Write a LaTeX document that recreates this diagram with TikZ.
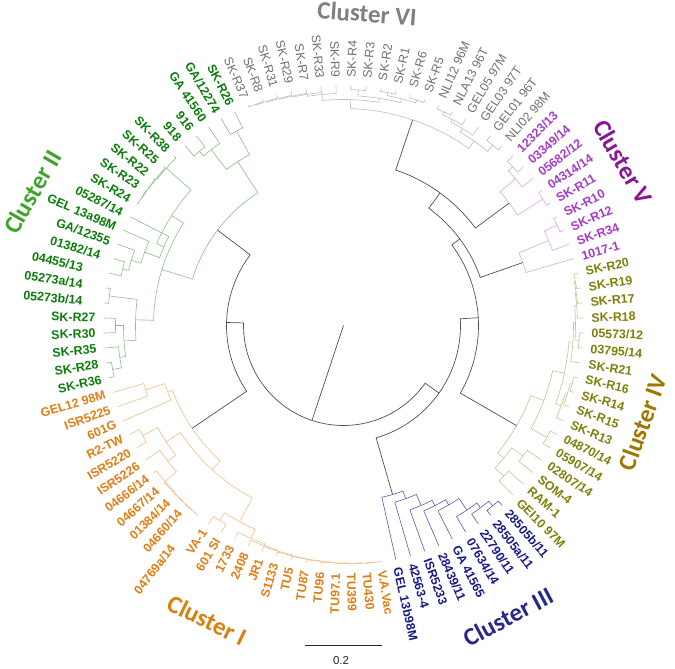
\documentclass[tikz,border=0pt]{standalone}
\usepackage{fontspec}
\newfontfamily\labf{Liberation Sans}
\newfontfamily\titf{Carlito}
\definecolor{bbone}{HTML}{505050}
\definecolor{c6lab}{HTML}{707070}\definecolor{c6br}{HTML}{BDBDBD}\definecolor{c6tit}{HTML}{808080}
\definecolor{c5lab}{HTML}{A53BC9}\definecolor{c5br}{HTML}{D8A6E8}\definecolor{c5tit}{HTML}{8C1496}
\definecolor{c4lab}{HTML}{7F800A}\definecolor{c4br}{HTML}{C3C396}\definecolor{c4tit}{HTML}{A07800}
\definecolor{c3lab}{HTML}{19198A}\definecolor{c3br}{HTML}{5A5AAA}\definecolor{c3tit}{HTML}{28288C}
\definecolor{c1lab}{HTML}{E17D14}\definecolor{c1br}{HTML}{EEBE8C}\definecolor{c1tit}{HTML}{D7820F}
\definecolor{c2lab}{HTML}{0A7D0A}\definecolor{c2br}{HTML}{8CBE8C}\definecolor{c2tit}{HTML}{3CA528}
\colorlet{curbr}{bbone}\colorlet{curlab}{black}
\def\brw{0.6pt}
\def\labfont{\labf\bfseries\fontsize{12.4}{14}\selectfont}
\tikzset{
  br/.style={line width=\brw, draw=curbr, line join=miter},
  lab/.style={inner sep=0pt, text height=8.9pt, text depth=0pt, text=curlab, font=\labfont},
  tit/.style={inner sep=0pt, font=\titf\bfseries\fontsize{25}{30}\selectfont}
}
% leaf: [extra label offset]{index}{text}
\newcommand\Lf[3][0]{%
  \pgfmathsetmacro\leafang{113.4-3.6*#2}%
  \expandafter\xdef\csname ang@#2\endcsname{\leafang}%
  \expandafter\xdef\csname rad@#2\endcsname{240}%
  \pgfmathsetmacro\leafr{248+#1}%
  \ifnum#2<7 \node[lab,anchor=east,rotate=\leafang+180] (lab#2) at (\leafang:\leafr pt) {#3};%
  \else\ifnum#2>56 \node[lab,anchor=east,rotate=\leafang+180] (lab#2) at (\leafang:\leafr pt) {#3};%
  \else \node[lab,anchor=west,rotate=\leafang] (lab#2) at (\leafang:\leafr pt) {#3};%
  \fi\fi}
% join: {name}{radius}{child1}{child2}
\newcommand\J[4]{%
  \edef\tA{\csname ang@#3\endcsname}\edef\tB{\csname ang@#4\endcsname}%
  \edef\rA{\csname rad@#3\endcsname}\edef\rB{\csname rad@#4\endcsname}%
  \draw[br] (\tA:\rA pt) -- (\tA:#2pt) arc[start angle=\tA, end angle=\tB, radius=#2pt] -- (\tB:\rB pt);%
  \pgfmathsetmacro\tM{(\tA+\tB)/2}%
  \expandafter\xdef\csname ang@#1\endcsname{\tM}%
  \expandafter\xdef\csname rad@#1\endcsname{#2}}
\begin{document}
\begin{tikzpicture}
\fill[white] (-343.5pt,-343.5pt) rectangle (331.5pt,325.5pt);
\useasboundingbox (-343.5pt,-343.5pt) rectangle (331.5pt,325.5pt);
% ---------------- Cluster VI
\colorlet{curlab}{c6lab}\colorlet{curbr}{c6br}
\def\labfont{\labf\fontsize{12.4}{14}\selectfont}
\Lf{0}{SK-R37}\Lf{1}{SK-R8}\Lf{2}{SK-R31}\Lf{3}{SK-R29}\Lf{4}{SK-R7}\Lf{5}{SK-R33}\Lf{6}{SK-R9}
\Lf{7}{SK-R4}\Lf{8}{SK-R3}\Lf{9}{SK-R2}\Lf{10}{SK-R1}\Lf{11}{SK-R6}\Lf{12}{SK-R5}
\Lf{13}{NLI12 96M}\Lf{14}{NLA13 96T}\Lf{15}{GEL05 97M}\Lf{16}{GEL03 97T}\Lf{17}{GEL01 96T}\Lf{18}{NLI02 98M}
\J{n1}{238}{0}{1}\J{n2}{237}{n1}{2}\J{n3}{236}{n2}{3}\J{n4}{235}{n3}{4}\J{n5}{234}{n4}{5}\J{n6}{232}{n5}{6}
\J{p1}{236}{7}{8}\J{p2}{237}{9}{10}\J{p3}{237}{11}{12}\J{p4}{234}{p2}{p3}\J{p5}{230}{p1}{p4}
\J{via}{226}{n6}{p5}
\J{q1}{236}{13}{14}\J{q2}{233}{q1}{15}\J{q3}{230}{q2}{16}\J{q4}{234}{17}{18}\J{vib}{226}{q3}{q4}
\J{C6}{217}{via}{vib}
% ---------------- Cluster V
\def\labfont{\labf\bfseries\fontsize{12.4}{14}\selectfont}
\colorlet{curlab}{c5lab}\colorlet{curbr}{c5br}
\Lf{19}{12323/13}\Lf{20}{03349/14}\Lf{21}{05682/12}\Lf{22}{04314/14}\Lf{23}{SK-R11}
\Lf{24}{SK-R10}\Lf{25}{SK-R12}\Lf{26}{SK-R34}\Lf{27}{1017-1}
\J{a1}{232}{19}{20}\J{a2}{226}{a1}{21}\J{a3}{236}{22}{23}\J{Va}{206}{a2}{a3}
\J{b1}{236}{24}{25}\J{b2}{222}{b1}{26}\J{Vb}{190}{b2}{27}
% ---------------- Cluster IV
\colorlet{curlab}{c4lab}\colorlet{curbr}{c4br}
\Lf{28}{SK-R20}\Lf{29}{SK-R19}\Lf{30}{SK-R17}\Lf{31}{SK-R18}\Lf{32}{05573/12}\Lf{33}{03795/14}
\Lf{34}{SK-R21}\Lf{35}{SK-R16}\Lf{36}{SK-R14}\Lf{37}{SK-R15}\Lf{38}{SK-R13}\Lf{39}{04870/14}
\Lf{40}{05907/14}\Lf{41}{02807/14}\Lf{42}{SOM-4}\Lf{43}{RAM-1}\Lf{44}{GEI10 97M}
\J{g1}{236}{28}{29}\J{g2}{235}{g1}{30}\J{g3}{234}{g2}{31}\J{g4}{236}{32}{33}\J{g5}{232}{g3}{g4}
\J{g6}{230}{g5}{34}\J{g7}{236}{35}{36}\J{g8}{234}{g7}{37}\J{g9}{232}{g8}{38}\J{g10}{226}{g6}{g9}
\J{g11}{232}{39}{40}\J{IVa}{214}{g10}{g11}
\J{h1}{222}{41}{42}\J{h2}{220}{43}{44}\J{IVb}{208}{h1}{h2}
\J{C4}{200}{IVa}{IVb}
% ---------------- Cluster III
\colorlet{curlab}{c3lab}\colorlet{curbr}{c3br}
\Lf{45}{28505b/11}\Lf{46}{28505a/11}\Lf{47}{22790/11}\Lf{48}{07634/14}\Lf{49}{GA 41565}
\Lf{50}{28439/11}\Lf{51}{ISR5233}\Lf{52}{42563-4}\Lf{53}{GEL 13b98M}
\J{t7}{234}{45}{46}\J{t6}{228}{t7}{47}\J{t5}{222}{t6}{48}\J{t4}{208}{t5}{49}
\J{t3}{202}{t4}{50}\J{t2}{196}{t3}{51}\J{t1}{184}{t2}{52}\J{C3}{176}{t1}{53}
% ---------------- Cluster I
\colorlet{curlab}{c1lab}\colorlet{curbr}{c1br}
\Lf{54}{V.A.Vac}\Lf{55}{TU430}\Lf{56}{TU399}\Lf{57}{TU97.1}\Lf{58}{TU96}\Lf{59}{TU87}
\Lf{60}{TU5}\Lf{61}{S1133}\Lf{62}{JR1}\Lf{63}{2408}\Lf{64}{1733}\Lf{65}{601 SI}\Lf{66}{VA-1}
\Lf[31]{67}{04769a/14}\Lf{68}{04660/14}\Lf{69}{01384/14}\Lf{70}{04667/14}\Lf{71}{04666/14}
\Lf{72}{ISR5226}\Lf{73}{ISR5220}\Lf{74}{R2-TW}\Lf{75}{601G}\Lf{76}{ISR5225}\Lf{77}{GEL12 98M}
\J{s1}{239}{55}{54}\J{s2}{238.5}{56}{s1}\J{s3}{238}{57}{s2}\J{s4}{237.5}{58}{s3}\J{s5}{237}{59}{s4}
\J{s6}{236.5}{60}{s5}\J{s7}{236}{61}{s6}\J{s8}{235}{62}{s7}\J{s9}{234}{63}{s8}\J{s10}{232}{64}{s9}
\J{u1}{231}{66}{65}\J{Ib}{222}{u1}{s10}
\J{m1}{239}{68}{67}\J{m2}{238.5}{69}{m1}\J{m3}{238}{70}{m2}\J{m4}{237}{71}{m3}
\J{m5}{222}{72}{m4}\J{m6}{229}{74}{73}\J{Im}{212}{m6}{m5}
\J{Ilow}{195}{Im}{Ib}
\J{v1}{208}{77}{76}\J{Iup}{188}{v1}{75}
\J{C1}{183}{Iup}{Ilow}
% ---------------- Cluster II
\colorlet{curlab}{c2lab}\colorlet{curbr}{c2br}
\Lf{78}{SK-R36}\Lf{79}{SK-R28}\Lf{80}{SK-R35}\Lf{81}{SK-R30}\Lf{82}{SK-R27}
\Lf[14]{83}{05273b/14}\Lf[16]{84}{05273a/14}\Lf[19]{85}{04455/13}\Lf[5]{86}{01382/14}
\Lf{87}{GA/12355}\Lf{88}{GEL 13a98M}\Lf{89}{05287/14}\Lf{90}{SK-R24}\Lf{91}{SK-R23}
\Lf{92}{SK-R22}\Lf{93}{SK-R25}\Lf{94}{SK-R38}\Lf{95}{918}\Lf{96}{916}\Lf{97}{GA 41560}
\Lf{98}{GA/12274}\Lf{99}{SK-R26}
\J{bb1}{235}{78}{79}\J{bb2}{226}{bb1}{80}\J{bb3}{228}{81}{82}\J{bb4}{220}{bb2}{bb3}
\J{bb5}{236}{83}{84}\J{Bx}{208}{bb4}{bb5}
\J{c1}{228}{85}{86}\J{c2}{222}{c1}{87}\J{c3}{212}{c2}{88}\J{c4}{196}{c3}{89}
\J{d1}{239}{91}{90}\J{d2}{238.5}{92}{d1}\J{d3}{238}{93}{d2}\J{d4}{237}{94}{d3}
\J{Ex}{204}{d4}{c4}\J{Yx}{190}{Ex}{Bx}
\J{x1}{222}{99}{98}\J{x2}{226}{96}{95}\J{x3}{220}{97}{x2}\J{Xx}{195}{x1}{x3}
\J{C2}{158}{Xx}{Yx}
% ---------------- backbone
\colorlet{curbr}{bbone}\def\brw{0.7pt}
\J{R4}{164}{Va}{C6}\J{R3}{145}{Vb}{R4}\J{R2}{135}{C4}{R3}\J{R1}{117}{C3}{R2}
\J{L1}{117}{C2}{C1}\J{root}{100}{L1}{R1}
\coordinate (ctr) at (0,0);
\coordinate (rootpt) at (\csname ang@root\endcsname:100pt);
\draw[br] (ctr) -- (rootpt);
% ---------------- titles
\node[tit, text=c6tit, rotate=-4] (t6) at (23.5pt,312pt) {Cluster VI};
\node[tit, text=c5tit, rotate=-60] (t5) at (279.5pt,163.5pt) {Cluster V};
\node[tit, text=c4tit, rotate=70] (t4) at (299pt,-97pt) {Cluster IV};
\node[tit, text=c3tit, rotate=28] (t3) at (164.5pt,-291.5pt) {Cluster III};
\node[tit, text=c1tit, rotate=-26] (t1) at (-136.5pt,-294.5pt) {Cluster I};
\node[tit, text=c2tit, rotate=60] (t2) at (-311pt,133.5pt) {Cluster II};
% ---------------- scale bar
\coordinate (sb1) at (-38.5pt,-319.5pt);
\coordinate (sb2) at (38.5pt,-319.5pt);
\draw[line width=0.9pt, draw=black!85] (sb1) -- (sb2);
\node[inner sep=0pt, font=\labf\fontsize{11.5}{13}\selectfont, text=black!85] (sbl) at (-2.5pt,-335.5pt) {0.2};
\end{tikzpicture}
\end{document}
